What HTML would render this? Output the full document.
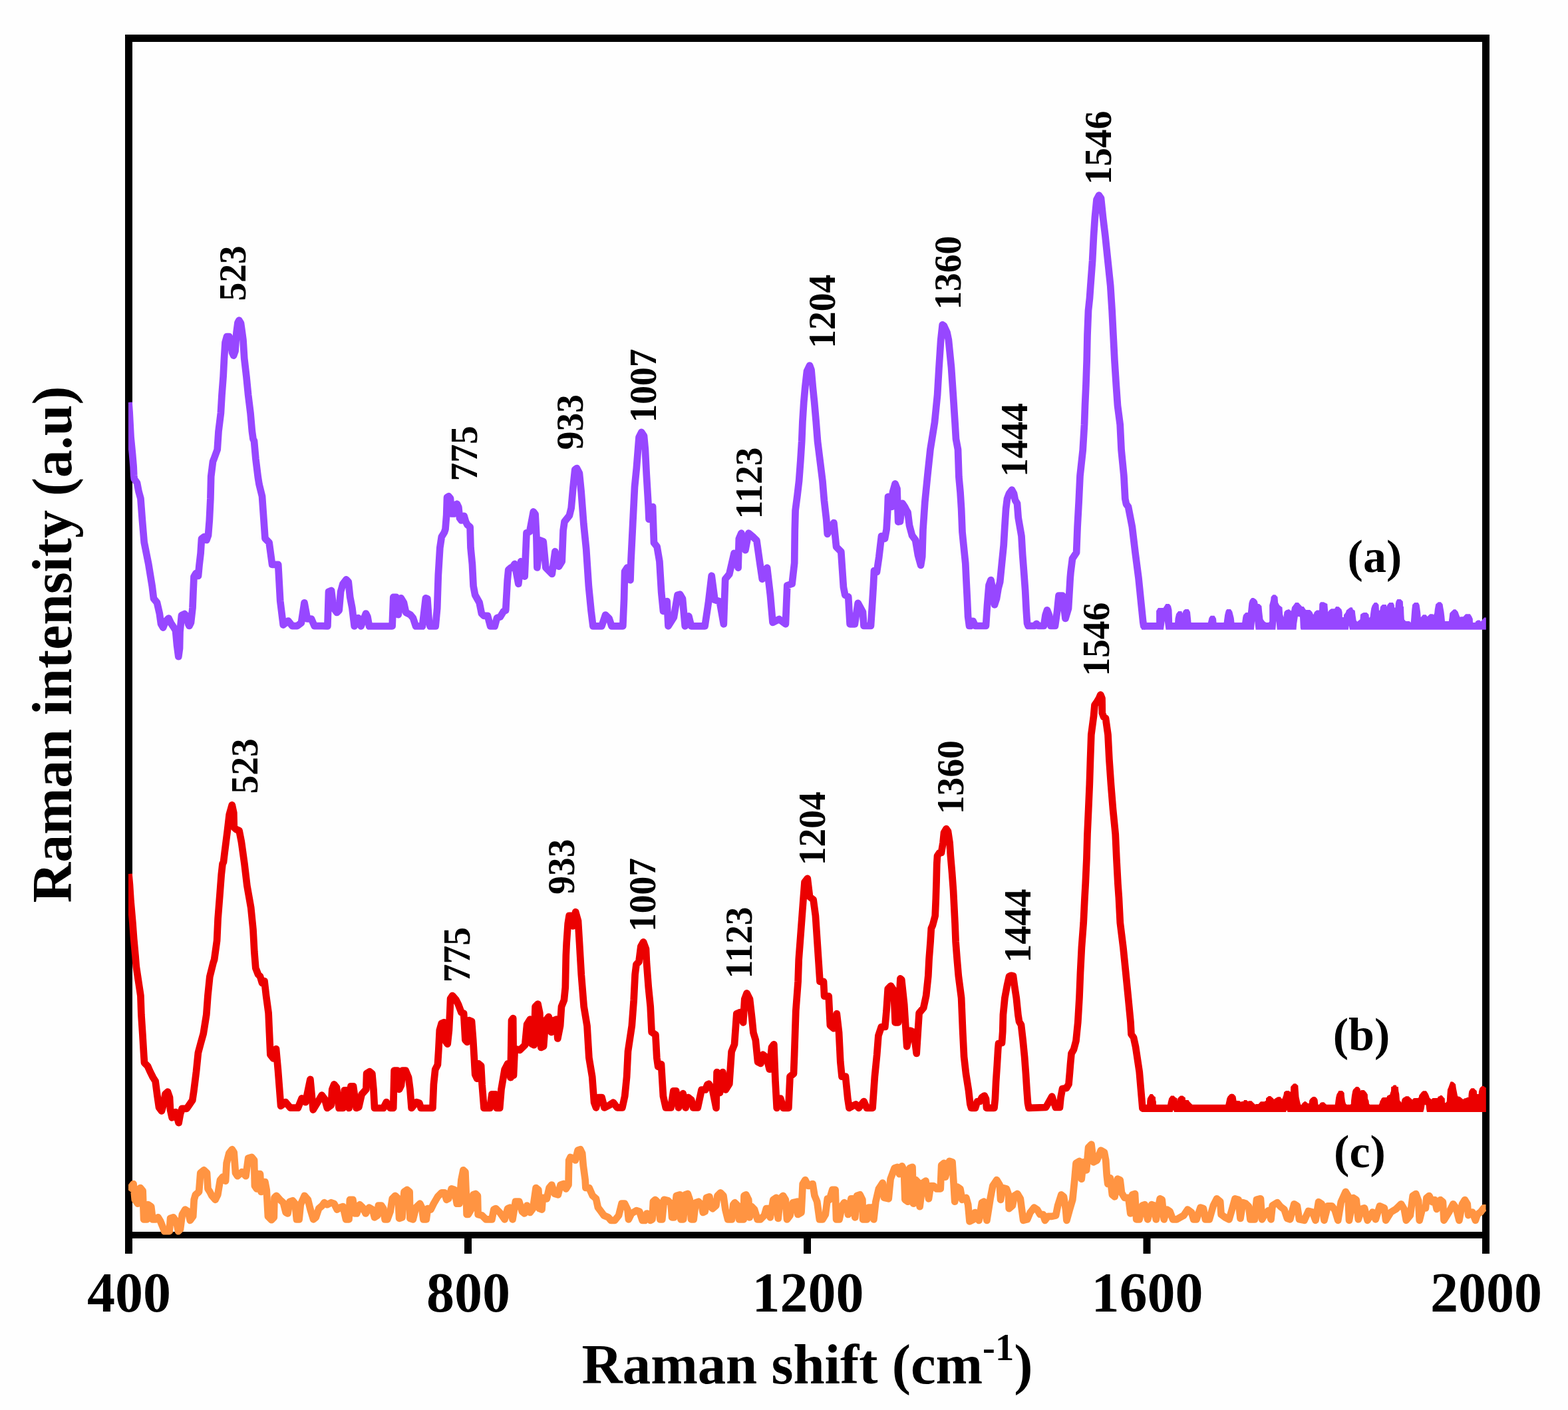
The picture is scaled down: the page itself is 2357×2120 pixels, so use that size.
<!DOCTYPE html>
<html><head><meta charset="utf-8"><title>Raman spectra</title>
<style>
html,body{margin:0;padding:0;background:#fefefe;}
svg{display:block;}
text{font-family:"Liberation Serif","Times New Roman",serif;font-weight:bold;fill:#000;}
</style></head>
<body>
<svg width="2357" height="2120" viewBox="0 0 2357 2120">
<rect x="0" y="0" width="2357" height="2120" fill="#fefefe"/>
<g fill="#000">
<rect x="188" y="52" width="2051" height="11"/>
<rect x="188" y="1852" width="2051" height="10"/>
<rect x="188" y="52" width="11" height="1833"/>
<rect x="2228" y="52" width="11" height="1833"/>
<rect x="698" y="1862" width="11" height="23"/>
<rect x="1208" y="1862" width="11" height="23"/>
<rect x="1718.5" y="1862" width="11" height="23"/>
</g>
<g font-size="84" text-anchor="middle">
<text x="194" y="1972">400</text>
<text x="704" y="1972">800</text>
<text x="1214.5" y="1972">1200</text>
<text x="1724.5" y="1972">1600</text>
<text x="2234" y="1972">2000</text>
</g>
<text transform="translate(874.6,2080) scale(1.009,1.0)" font-size="84">Raman shift (cm<tspan font-size="56" dy="-35">-1</tspan><tspan dy="35">)</tspan></text>
<text transform="translate(106.5,1357.5) rotate(-90) scale(1.0,1.0)" font-size="84">Raman intensity (a.u)</text>
<defs><clipPath id="pc"><rect x="192.9" y="57" width="2041" height="1800"/></clipPath></defs>
<g clip-path="url(#pc)">
<g fill="none" stroke-width="10.7" stroke-linejoin="round" stroke-linecap="butt">
<polyline stroke="#9747ff" points="193.5,605.0 194.6,620.0 196.6,657.6 199.0,682.0 200.7,702.0 201.2,714.5 201.8,720.0 206.0,726.0 208.5,739.0 211.4,749.4 213.9,782.4 216.7,815.4 223.3,848.3 228.7,881.3 231.0,900.0 236.0,906.0 239.8,922.5 242.0,938.0 245.2,943.6 249.0,934.0 253.5,929.6 257.0,937.0 261.0,943.0 264.0,948.0 266.0,970.0 268.3,987.2 270.0,975.0 270.5,950.0 273.0,925.0 277.4,923.0 280.0,926.0 283.0,938.0 284.5,941.0 287.0,936.0 289.5,914.0 290.5,889.5 291.5,867.0 294.5,862.0 298.0,866.0 299.5,850.0 301.6,831.9 303.0,810.0 307.0,807.0 310.5,812.0 313.0,805.0 314.8,782.4 316.4,749.4 317.2,716.5 320.0,694.0 321.6,690.0 326.7,676.0 328.5,648.6 331.9,621.1 333.5,593.6 335.6,566.2 337.0,538.7 338.5,515.0 341.0,506.0 344.5,506.0 347.0,515.0 349.0,530.0 351.1,534.6 353.5,528.0 355.5,500.0 357.5,485.0 359.4,481.6 362.0,486.0 364.0,500.0 365.5,511.2 367.2,538.7 370.4,566.2 373.1,593.6 376.5,621.1 378.9,648.6 380.5,660.0 382.0,663.0 384.4,689.8 387.8,717.3 389.5,728.0 394.0,746.2 398.5,809.6 404.6,815.7 409.1,848.9 418.2,848.9 421.2,903.3 425.7,939.6 433.3,933.5 439.3,941.1 446.9,941.1 452.9,936.5 457.5,906.3 462.0,930.5 468.0,930.5 472.6,941.1 484.6,941.1 492.4,941.5 494.0,889.6 498.1,887.9 501.4,914.3 506.4,920.9 509.7,917.6 512.1,889.6 515.4,878.0 520.4,871.4 523.7,874.7 526.2,897.8 529.4,914.3 532.7,941.5 538.5,929.1 542.6,941.5 550.0,922.5 552.5,927.5 555.0,941.5 589.6,941.5 591.3,897.8 595.4,897.8 598.7,924.2 602.8,899.4 606.9,906.0 610.2,920.9 616.8,924.2 620.9,929.1 625.0,941.5 634.9,941.5 639.9,899.4 642.4,900.3 644.8,934.0 646.5,941.5 654.7,941.5 657.2,914.3 658.8,864.8 661.3,823.6 663.8,807.1 667.9,800.5 669.5,795.6 671.2,774.2 672.0,747.8 674.5,746.2 677.0,749.4 678.6,772.5 681.9,772.5 683.6,759.3 686.9,757.7 689.3,762.6 691.0,779.1 693.5,782.4 697.6,775.8 700.0,784.1 702.5,789.0 706.6,792.3 707.5,823.6 709.9,848.3 711.6,881.3 714.1,894.5 720.6,906.0 723.9,922.5 727.2,925.8 733.0,925.8 737.1,941.5 743.7,941.5 747.0,929.1 751.9,927.5 756.9,919.2 760.2,917.6 762.7,873.1 764.3,856.6 768.5,853.3 770.0,853.5 773.7,847.9 779.3,877.8 783.1,844.2 788.7,866.6 791.5,801.2 796.2,799.3 801.8,769.4 804.6,773.2 806.4,806.8 807.4,853.5 812.0,812.4 816.7,814.3 820.4,853.5 829.8,862.9 834.4,829.2 840.1,851.6 844.7,844.2 846.6,797.5 848.5,784.4 855.9,775.1 858.7,763.8 861.5,732.1 864.3,705.9 867.1,704.1 870.9,711.5 873.7,739.6 877.4,788.1 881.2,825.5 884.9,881.5 888.6,918.9 891.4,941.3 904.5,941.3 910.1,924.5 915.7,930.1 919.4,941.3 936.3,941.3 938.1,900.2 939.1,859.1 942.8,853.5 947.5,872.2 948.4,844.2 951.2,788.1 954.0,732.1 956.8,704.1 960.5,657.4 964.3,649.9 968.0,655.5 969.9,676.0 971.8,713.4 974.6,760.1 975.5,780.7 981.1,762.0 983.0,816.2 987.6,821.8 991.4,844.2 994.2,890.9 997.0,918.9 1002.6,904.0 1004.5,941.3 1012.9,928.2 1018.5,894.6 1022.2,893.7 1026.0,900.2 1029.7,941.3 1035.3,926.4 1039.0,941.3 1059.6,941.3 1064.8,906.8 1069.7,865.7 1074.5,902.0 1081.8,904.4 1087.8,938.3 1090.2,870.6 1096.3,863.3 1103.5,831.9 1109.6,853.6 1110.8,810.1 1114.4,801.7 1120.4,827.1 1125.3,801.7 1132.5,807.7 1137.4,812.6 1142.2,846.4 1145.8,870.6 1153.1,853.6 1157.9,894.8 1161.5,935.9 1171.2,931.0 1180.9,938.3 1183.3,880.3 1190.6,877.8 1194.2,846.4 1194.8,797.0 1195.6,767.4 1198.5,745.1 1201.1,722.8 1203.3,693.2 1205.2,663.5 1206.4,633.8 1208.3,604.2 1210.3,581.9 1213.0,558.0 1217.1,549.5 1219.5,556.0 1221.8,581.9 1224.1,604.2 1226.7,633.8 1229.0,663.5 1232.7,693.2 1236.4,722.8 1238.9,752.5 1242.3,782.2 1243.8,802.9 1253.4,786.0 1257.1,822.2 1264.3,829.5 1267.9,882.7 1270.3,894.8 1275.2,897.2 1277.6,938.3 1284.9,938.3 1289.7,906.8 1296.9,920.0 1298.5,941.0 1309.0,941.0 1311.3,906.0 1313.0,878.6 1314.0,858.0 1318.0,860.0 1321.3,837.4 1323.7,816.8 1325.0,806.0 1330.0,810.0 1332.6,796.0 1334.2,768.7 1335.0,747.0 1339.0,746.0 1340.5,762.0 1342.0,740.0 1345.6,727.3 1348.5,735.0 1349.3,760.0 1350.2,784.6 1353.0,784.0 1356.5,756.9 1360.0,762.0 1363.0,767.9 1364.5,770.0 1367.0,790.0 1371.0,805.0 1376.1,812.0 1380.0,835.0 1384.1,849.8 1386.2,837.0 1387.5,796.0 1390.3,755.0 1394.4,713.7 1398.4,676.0 1405.0,634.8 1409.1,593.6 1411.5,552.4 1414.2,511.2 1416.7,488.4 1419.0,490.0 1423.6,500.0 1425.9,511.2 1430.0,552.4 1432.8,593.6 1435.5,634.8 1437.0,660.0 1438.5,668.0 1440.0,676.0 1441.4,717.3 1443.5,740.0 1445.1,765.0 1446.5,800.0 1448.0,815.0 1451.3,847.4 1452.6,874.8 1454.0,902.3 1455.1,927.0 1457.0,941.0 1459.0,941.0 1462.6,933.8 1466.0,941.0 1482.0,941.0 1484.0,910.0 1486.5,880.0 1489.5,872.0 1492.0,885.0 1495.0,909.3 1498.0,900.0 1500.5,885.0 1503.2,874.8 1505.9,847.4 1508.7,819.9 1510.3,792.4 1512.1,765.0 1514.0,750.0 1517.0,742.0 1521.0,736.6 1524.0,742.0 1526.0,752.0 1529.0,757.0 1530.7,778.7 1535.5,806.2 1537.1,833.6 1539.2,861.1 1541.2,888.6 1542.6,916.0 1544.0,937.0 1545.5,941.0 1555.0,941.0 1558.1,937.9 1561.0,941.0 1569.0,941.0 1571.5,925.0 1574.0,917.3 1577.0,925.0 1579.5,941.0 1586.0,941.0 1589.0,920.0 1591.5,895.5 1597.0,895.5 1601.5,930.0 1606.0,915.0 1607.5,890.0 1608.7,869.2 1609.5,860.0 1612.0,840.0 1618.1,830.8 1619.6,792.3 1621.7,753.8 1623.5,715.4 1627.7,676.9 1630.0,638.5 1631.0,610.0 1632.4,578.9 1633.7,541.5 1634.5,504.2 1636.0,466.8 1638.0,448.1 1639.3,429.5 1642.1,392.1 1644.0,354.7 1645.9,326.7 1648.5,300.0 1652.0,293.7 1655.0,298.0 1658.0,326.7 1661.4,354.7 1665.3,392.1 1669.2,429.5 1671.6,466.8 1673.5,504.2 1675.4,541.5 1677.8,578.9 1680.0,610.0 1683.7,638.5 1685.6,676.9 1689.4,715.4 1691.3,750.0 1693.0,758.0 1696.0,762.0 1701.9,792.3 1706.5,830.8 1711.5,869.2 1715.4,907.7 1718.2,935.0 1719.2,941.0 1722.0,941.4"/>
<polyline stroke="#eb0000" points="193.5,1314.0 194.9,1329.7 196.5,1354.5 199.4,1387.4 201.2,1412.0 203.5,1437.0 204.8,1453.4 207.1,1468.6 211.4,1497.1 212.4,1525.7 214.3,1554.3 216.0,1582.9 217.0,1598.0 222.0,1603.0 225.7,1611.4 230.0,1620.0 233.6,1625.7 236.4,1647.1 239.0,1665.0 242.9,1670.4 246.0,1660.0 248.5,1645.0 252.1,1641.7 255.0,1650.0 256.0,1668.6 258.6,1680.4 261.5,1675.0 264.0,1672.0 268.6,1688.2 271.0,1675.0 273.6,1666.8 280.7,1666.8 284.0,1662.0 289.3,1654.3 291.4,1640.0 295.0,1611.4 297.9,1582.9 301.7,1568.6 305.7,1554.3 310.3,1525.7 312.4,1497.1 315.3,1468.6 320.7,1447.0 322.1,1442.9 326.1,1414.3 327.6,1381.3 330.2,1348.3 332.7,1315.4 334.5,1299.0 336.0,1296.0 337.6,1282.4 341.8,1249.4 344.7,1224.7 348.8,1210.3 351.3,1222.0 351.8,1244.0 355.0,1247.0 359.6,1249.0 362.9,1265.9 367.5,1298.9 371.4,1331.9 377.2,1364.8 380.5,1397.8 382.3,1430.8 384.3,1455.5 388.0,1465.0 391.0,1468.0 394.0,1478.0 397.5,1475.0 400.0,1496.7 403.6,1522.9 406.4,1585.7 410.7,1591.4 415.0,1577.1 417.9,1608.6 422.1,1662.9 429.3,1657.1 436.4,1665.7 447.9,1665.7 453.6,1651.4 459.3,1657.1 466.4,1622.9 470.7,1668.6 479.3,1654.3 483.7,1646.7 488.2,1652.7 491.9,1666.0 497.8,1661.6 499.3,1637.9 502.2,1630.4 505.9,1634.9 509.6,1666.0 515.6,1666.0 517.8,1639.3 521.5,1639.3 524.5,1666.0 527.4,1633.4 531.1,1633.4 535.6,1666.0 539.3,1664.5 543.7,1645.3 550.4,1637.9 551.1,1614.1 555.6,1611.2 559.3,1614.1 561.5,1637.9 563.0,1666.0 576.3,1666.0 580.8,1657.1 586.7,1666.0 591.2,1666.0 592.6,1609.7 597.1,1609.7 600.1,1637.9 603.0,1631.9 605.2,1609.7 609.7,1609.7 614.1,1620.1 616.4,1637.9 618.6,1666.0 626.0,1657.1 630.4,1658.6 632.7,1666.0 650.4,1666.0 651.9,1630.4 654.2,1608.2 657.9,1600.8 659.3,1578.6 660.8,1548.9 663.8,1538.6 667.5,1537.1 670.5,1566.7 672.7,1569.7 674.9,1548.9 676.4,1519.3 677.1,1501.5 680.1,1497.1 685.3,1503.0 689.0,1510.4 693.4,1522.2 697.1,1523.7 699.4,1563.7 702.3,1566.7 705.3,1534.1 709.0,1535.6 711.2,1563.7 712.7,1588.9 714.2,1615.6 717.1,1621.6 719.4,1599.3 723.1,1602.3 724.6,1630.4 727.5,1666.0 736.4,1666.0 739.4,1645.3 744.6,1645.3 746.8,1666.0 751.2,1666.0 753.5,1637.9 758.6,1608.2 763.1,1599.3 767.5,1620.1 769.0,1534.1 771.2,1531.1 772.0,1617.0 773.8,1576.9 781.5,1578.8 789.2,1571.2 792.1,1540.4 796.9,1532.7 798.8,1569.2 802.7,1571.2 804.6,1513.5 808.5,1509.6 811.3,1523.1 813.3,1575.0 817.1,1573.1 820.0,1534.6 824.8,1528.8 828.7,1551.9 831.5,1534.6 836.3,1532.7 838.3,1561.5 842.1,1542.3 844.0,1513.5 847.9,1503.8 849.8,1484.6 850.8,1436.5 851.7,1417.3 853.7,1388.5 855.6,1376.9 858.5,1376.9 861.3,1392.3 865.2,1371.2 869.0,1384.6 871.0,1417.3 873.8,1465.4 877.7,1513.5 882.5,1542.3 885.4,1590.4 890.2,1619.2 893.1,1657.7 896.0,1665.4 899.8,1650.0 904.6,1650.0 908.5,1665.4 916.2,1661.5 921.9,1657.7 927.7,1665.4 935.4,1665.4 939.2,1648.1 942.1,1619.2 944.0,1580.8 946.9,1561.5 949.8,1542.3 952.7,1503.8 954.6,1465.4 956.5,1450.0 960.4,1446.2 963.3,1423.1 967.1,1416.3 971.0,1426.9 971.9,1446.2 974.8,1484.6 977.7,1513.5 979.6,1551.9 985.4,1555.8 987.3,1590.4 989.2,1603.8 994.0,1600.0 996.9,1648.1 1000.8,1665.4 1008.5,1665.4 1012.3,1640.4 1016.2,1640.4 1020.0,1665.4 1026.7,1644.2 1030.6,1665.4 1034.4,1650.0 1039.2,1653.8 1042.1,1665.4 1048.8,1665.4 1054.6,1638.5 1060.4,1638.5 1063.3,1630.8 1065.5,1629.7 1071.0,1638.5 1076.5,1665.9 1077.6,1612.1 1082.0,1642.9 1086.4,1612.1 1090.8,1638.5 1096.3,1629.7 1099.6,1581.3 1104.0,1570.3 1107.3,1524.2 1112.7,1522.0 1117.1,1537.4 1119.3,1502.2 1122.6,1493.4 1127.0,1502.2 1130.3,1530.8 1132.5,1552.7 1135.8,1563.7 1139.1,1596.7 1143.5,1598.9 1146.8,1585.7 1152.3,1590.1 1156.7,1607.7 1160.0,1574.7 1163.3,1570.3 1165.5,1625.3 1167.7,1665.9 1173.2,1651.6 1177.6,1665.9 1185.3,1665.9 1187.5,1618.7 1193.0,1614.3 1194.1,1585.7 1196.3,1519.8 1199.6,1475.8 1200.7,1442.9 1204.0,1398.9 1207.3,1354.9 1209.5,1326.4 1213.8,1320.9 1217.1,1348.4 1222.6,1352.7 1225.9,1376.9 1228.1,1409.9 1230.3,1442.9 1232.5,1475.8 1238.0,1475.8 1239.1,1497.8 1245.7,1497.8 1247.9,1541.8 1253.4,1546.2 1257.8,1524.2 1261.1,1552.7 1263.3,1596.7 1265.5,1618.7 1271.0,1618.7 1274.3,1651.6 1276.5,1665.9 1286.4,1660.4 1290.8,1665.9 1298.5,1656.0 1302.9,1665.9 1311.6,1665.9 1314.9,1618.7 1318.2,1585.7 1320.4,1557.1 1324.8,1544.0 1330.3,1544.0 1332.5,1519.8 1334.7,1486.8 1339.1,1482.4 1343.5,1489.0 1345.7,1537.4 1350.1,1537.4 1353.4,1471.4 1355.3,1473.2 1359.2,1510.1 1363.2,1573.4 1368.5,1549.6 1373.7,1552.3 1377.7,1583.9 1381.6,1523.3 1388.2,1515.4 1392.2,1496.9 1395.3,1467.4 1396.6,1441.6 1398.6,1415.8 1399.8,1396.0 1402.0,1391.0 1405.7,1377.0 1406.8,1351.2 1407.6,1325.4 1408.2,1299.6 1409.0,1287.0 1412.0,1282.4 1415.0,1282.0 1417.5,1267.3 1419.0,1252.0 1422.4,1246.2 1425.0,1250.0 1427.6,1267.3 1428.9,1286.6 1431.1,1312.5 1433.0,1338.3 1434.3,1364.1 1435.6,1390.0 1436.6,1415.8 1438.6,1441.6 1440.8,1467.4 1445.1,1500.5 1447.2,1551.1 1449.1,1589.0 1452.0,1614.3 1456.0,1639.6 1458.3,1660.0 1460.0,1665.8 1466.0,1665.8 1469.0,1656.4 1473.0,1656.0 1476.0,1650.0 1479.8,1647.5 1482.0,1652.0 1483.0,1665.8 1494.5,1665.8 1495.9,1652.2 1497.1,1626.9 1498.8,1601.6 1500.3,1576.4 1501.0,1569.0 1506.0,1568.0 1507.2,1551.1 1507.9,1525.8 1510.4,1500.5 1513.9,1481.6 1517.0,1468.0 1520.0,1466.8 1523.0,1467.5 1524.9,1481.6 1527.8,1500.5 1530.4,1525.8 1532.0,1536.0 1535.0,1541.0 1537.6,1563.7 1540.1,1589.0 1542.0,1614.3 1543.6,1639.6 1545.0,1658.5 1546.5,1665.8 1572.1,1665.0 1581.3,1648.6 1586.8,1665.0 1593.0,1665.0 1594.5,1650.0 1597.0,1637.0 1603.0,1636.0 1606.5,1630.0 1608.1,1611.5 1609.0,1600.0 1610.5,1584.0 1614.0,1578.0 1617.5,1564.8 1620.3,1536.8 1622.5,1499.5 1624.0,1462.1 1625.9,1424.7 1628.7,1387.4 1630.5,1350.0 1631.7,1328.9 1633.4,1291.5 1634.5,1254.2 1636.2,1216.8 1637.8,1179.5 1639.0,1142.1 1640.3,1104.7 1644.0,1076.7 1645.5,1060.0 1649.0,1055.0 1652.0,1050.0 1654.3,1044.6 1656.5,1050.0 1656.8,1072.0 1659.0,1078.0 1662.0,1080.0 1665.5,1104.7 1667.4,1142.1 1670.0,1179.5 1673.0,1216.8 1676.7,1254.2 1678.4,1291.5 1680.4,1328.9 1681.9,1350.0 1683.8,1387.4 1688.4,1424.7 1692.2,1462.1 1695.9,1499.5 1699.5,1536.8 1700.5,1555.0 1704.0,1560.0 1707.1,1574.2 1712.7,1611.5 1715.9,1648.9 1717.4,1666.3 1722.0,1666.3"/>
<polyline stroke="#ff9442" points="193.3,1789.7 200.6,1780.0 202.8,1803.8 207.2,1809.7 210.9,1786.0 214.6,1790.4 216.1,1833.4 220.6,1833.4 222.8,1811.2 227.2,1814.1 229.5,1833.4 233.9,1833.4 237.6,1830.4 241.3,1836.4 247.2,1851.2 254.7,1851.2 256.1,1831.9 260.6,1830.4 265.0,1836.4 268.0,1851.2 271.0,1848.2 273.9,1826.0 278.4,1818.6 282.8,1821.5 285.8,1834.9 290.2,1828.9 291.7,1803.8 293.9,1796.3 299.1,1791.9 301.3,1763.7 306.5,1759.3 311.0,1763.7 312.5,1787.4 315.4,1791.9 318.4,1797.8 323.6,1803.8 327.3,1796.3 331.0,1774.1 334.7,1769.7 339.1,1775.6 340.6,1748.9 344.3,1734.1 348.8,1728.2 351.7,1732.6 354.0,1763.7 356.9,1768.2 363.6,1762.2 369.5,1768.2 373.2,1741.5 378.4,1740.0 382.1,1744.5 382.9,1783.0 385.8,1787.4 388.1,1765.2 391.0,1765.2 392.5,1791.9 394.7,1777.1 398.4,1777.1 400.7,1788.9 402.9,1828.9 408.1,1834.1 411.8,1830.4 412.5,1800.8 415.5,1797.8 420.7,1803.8 425.8,1808.2 429.6,1823.0 432.5,1824.5 435.5,1806.7 439.9,1805.2 443.6,1809.7 445.9,1833.4 449.6,1833.4 451.8,1811.2 457.7,1797.8 462.9,1803.8 466.6,1818.6 471.1,1833.4 474.8,1830.4 479.2,1817.1 484.4,1812.6 487.4,1808.2 491.9,1811.2 497.8,1808.2 502.2,1809.7 506.7,1818.6 511.1,1815.6 515.6,1814.1 520.0,1833.4 524.5,1833.4 525.9,1803.8 530.4,1803.8 533.4,1824.5 536.3,1824.5 540.8,1811.2 545.2,1815.6 549.7,1824.5 554.8,1815.6 560.0,1818.6 563.0,1830.4 567.4,1827.5 568.9,1812.6 573.4,1812.6 576.3,1817.1 578.6,1833.4 582.3,1833.4 586.7,1821.5 589.7,1802.3 594.1,1797.8 598.6,1802.3 600.1,1831.9 604.5,1830.4 607.5,1791.9 611.9,1788.9 615.6,1791.9 616.4,1831.9 620.8,1833.4 625.2,1815.6 631.2,1809.7 634.1,1815.6 636.4,1833.4 640.8,1833.4 643.0,1817.1 647.5,1818.6 651.9,1809.7 657.9,1799.3 663.8,1793.4 668.2,1793.4 671.2,1803.8 674.2,1802.3 678.6,1787.4 683.1,1788.9 686.8,1809.7 690.5,1809.7 693.4,1774.1 696.4,1759.3 699.4,1762.2 700.8,1796.3 701.6,1826.0 703.8,1826.0 708.2,1818.6 711.2,1796.3 714.9,1794.9 717.9,1797.8 718.6,1826.0 724.6,1827.5 730.5,1833.4 739.4,1833.4 742.3,1818.6 745.3,1817.1 751.2,1823.0 758.6,1833.4 763.1,1817.1 766.8,1815.6 770.5,1833.4 774.9,1806.7 777.4,1806.7 780.4,1806.7 784.8,1821.5 788.5,1824.5 792.2,1812.6 796.7,1823.0 801.1,1817.1 805.6,1786.0 809.3,1788.9 810.8,1817.1 814.5,1818.6 815.9,1800.8 821.9,1802.3 825.6,1786.0 829.3,1781.5 833.7,1794.9 838.9,1796.3 842.6,1781.5 847.1,1780.0 850.8,1787.4 854.5,1781.5 855.2,1744.5 857.4,1740.0 861.9,1741.5 864.9,1744.5 868.6,1729.6 872.3,1728.2 875.2,1734.1 876.7,1751.9 879.7,1774.1 880.4,1786.0 885.6,1786.0 890.8,1797.8 896.0,1802.3 898.9,1815.6 903.4,1821.5 907.8,1827.5 914.5,1830.4 918.2,1834.9 924.1,1834.9 930.1,1827.5 934.5,1809.7 939.0,1809.7 943.4,1818.6 944.9,1833.4 949.3,1824.5 956.7,1820.1 961.2,1821.5 965.6,1834.9 969.3,1834.9 972.3,1824.5 976.0,1826.0 977.5,1834.9 980.5,1833.4 981.9,1806.7 984.9,1803.8 989.4,1808.2 992.3,1833.4 995.3,1833.4 998.2,1803.8 1004.2,1805.2 1008.6,1809.7 1010.1,1830.4 1013.1,1830.4 1016.8,1797.8 1022.0,1796.3 1023.4,1833.4 1027.2,1833.4 1030.1,1796.3 1033.8,1794.9 1036.8,1803.8 1039.0,1833.4 1042.7,1833.4 1045.7,1808.2 1050.1,1806.7 1054.6,1811.2 1056.8,1823.0 1059.8,1821.5 1062.0,1800.8 1066.4,1799.3 1069.4,1815.6 1071.1,1817.1 1076.3,1812.6 1078.5,1797.8 1083.0,1793.4 1087.4,1797.8 1090.4,1818.6 1094.1,1833.4 1100.0,1833.4 1102.2,1811.2 1104.5,1808.2 1108.9,1812.6 1111.1,1833.4 1117.8,1833.4 1118.5,1797.8 1121.5,1796.3 1125.2,1803.8 1126.7,1830.4 1129.7,1814.1 1134.1,1818.6 1138.6,1833.4 1143.0,1833.4 1148.9,1827.5 1151.9,1817.1 1156.3,1817.1 1157.8,1830.4 1162.3,1803.8 1166.7,1800.8 1169.7,1831.9 1172.6,1802.3 1177.1,1797.8 1180.8,1803.8 1183.0,1833.4 1187.5,1827.5 1191.9,1808.2 1198.6,1806.7 1199.3,1826.0 1204.5,1823.0 1206.7,1780.0 1210.4,1774.1 1214.9,1783.0 1221.6,1780.0 1224.5,1797.8 1228.2,1806.7 1231.9,1833.4 1236.4,1833.4 1240.8,1826.0 1243.8,1802.3 1246.8,1803.8 1251.2,1788.9 1255.6,1788.9 1257.1,1833.4 1261.6,1833.4 1266.0,1812.6 1269.0,1808.2 1273.4,1811.2 1274.9,1826.0 1279.4,1802.3 1282.3,1802.3 1285.3,1830.4 1288.2,1797.8 1292.7,1796.3 1296.4,1803.8 1297.1,1833.4 1303.1,1833.4 1306.0,1815.6 1310.5,1815.6 1313.4,1833.4 1316.4,1806.7 1320.9,1787.4 1326.8,1778.6 1329.0,1800.8 1335.7,1802.3 1338.6,1772.6 1344.6,1756.3 1349.0,1754.8 1352.0,1765.2 1355.9,1753.4 1358.9,1759.3 1360.4,1803.8 1364.8,1806.7 1367.8,1756.3 1371.5,1754.8 1373.0,1809.7 1376.7,1774.1 1379.6,1777.1 1382.6,1814.1 1387.1,1778.6 1391.5,1775.6 1396.0,1802.3 1398.9,1783.0 1403.4,1783.0 1407.8,1787.4 1413.7,1787.4 1415.2,1751.9 1418.9,1748.9 1421.1,1769.7 1427.1,1745.9 1431.5,1747.4 1433.7,1781.5 1435.2,1806.7 1438.9,1784.5 1443.4,1787.4 1446.3,1803.8 1452.3,1800.8 1455.2,1811.2 1457.5,1836.4 1463.4,1833.4 1465.6,1823.0 1469.3,1824.5 1471.5,1834.9 1476.0,1808.2 1478.9,1806.7 1483.4,1834.9 1488.6,1802.3 1492.3,1783.0 1498.2,1774.1 1502.7,1781.5 1504.1,1803.8 1507.1,1786.0 1513.0,1787.4 1516.0,1796.3 1516.7,1817.1 1521.9,1812.6 1524.9,1797.8 1529.3,1794.9 1533.8,1802.3 1536.0,1818.6 1538.2,1834.9 1544.2,1833.4 1548.6,1823.0 1554.5,1815.6 1559.0,1818.6 1563.4,1826.0 1567.9,1826.0 1570.8,1834.9 1575.3,1828.9 1581.2,1828.9 1587.1,1827.5 1590.1,1812.6 1595.3,1796.3 1599.0,1799.3 1602.0,1818.6 1603.4,1834.9 1607.9,1818.6 1612.3,1803.8 1615.3,1774.1 1617.5,1748.9 1622.7,1745.9 1625.7,1772.6 1628.6,1747.4 1633.1,1759.3 1636.1,1725.2 1640.5,1720.7 1643.7,1747.4 1648.9,1744.5 1654.8,1729.6 1660.0,1732.6 1662.2,1744.5 1663.7,1766.7 1665.2,1780.0 1668.9,1771.1 1671.9,1796.3 1675.6,1799.3 1680.0,1772.6 1683.7,1774.1 1686.0,1793.4 1690.4,1800.8 1696.3,1800.8 1699.3,1824.5 1702.2,1796.3 1706.0,1794.9 1708.2,1833.4 1712.6,1833.4 1717.1,1812.6 1720.8,1811.2 1725.2,1833.4 1731.2,1811.2 1734.9,1812.6 1737.8,1833.4 1743.7,1802.3 1746.7,1803.8 1749.7,1833.4 1754.1,1818.6 1758.6,1821.5 1763.0,1833.4 1768.9,1833.4 1774.1,1830.4 1779.3,1827.5 1785.2,1818.6 1791.2,1823.0 1794.1,1833.4 1798.6,1833.4 1804.5,1815.6 1809.0,1817.1 1811.9,1833.4 1817.9,1833.4 1823.8,1812.6 1829.0,1802.3 1834.2,1806.7 1835.6,1826.0 1841.6,1830.4 1847.5,1833.4 1851.9,1818.6 1856.4,1802.3 1861.6,1803.8 1864.5,1831.9 1868.2,1808.2 1872.7,1809.7 1877.1,1814.1 1879.4,1833.4 1886.0,1833.4 1889.0,1803.8 1894.9,1802.3 1897.1,1833.4 1900.9,1826.0 1906.8,1820.1 1910.5,1833.4 1912.7,1812.6 1920.1,1808.2 1924.6,1814.1 1930.5,1818.6 1934.9,1831.9 1939.2,1833.3 1945.3,1810.3 1949.9,1813.3 1953.0,1833.3 1960.6,1834.8 1966.8,1821.0 1972.9,1822.5 1977.5,1834.8 1982.1,1807.2 1986.7,1810.3 1990.5,1834.8 1995.9,1813.3 2002.0,1813.3 2006.6,1819.5 2011.2,1834.8 2015.8,1807.2 2022.7,1791.9 2026.5,1798.0 2028.0,1834.8 2034.1,1801.1 2038.7,1804.1 2041.8,1833.3 2046.4,1817.9 2051.0,1816.4 2055.6,1834.8 2063.2,1822.5 2067.8,1833.3 2074.0,1813.3 2080.9,1816.4 2083.2,1834.8 2090.8,1822.5 2098.5,1817.9 2106.1,1810.3 2110.7,1817.9 2113.8,1834.8 2119.9,1827.1 2123.7,1798.0 2128.3,1795.0 2132.2,1805.7 2133.7,1834.8 2138.3,1816.4 2142.9,1816.4 2144.4,1801.1 2148.3,1798.0 2152.9,1807.2 2156.7,1804.1 2159.7,1817.9 2165.1,1804.1 2168.9,1807.2 2170.5,1834.8 2178.1,1822.5 2184.3,1810.3 2188.8,1816.4 2193.4,1834.8 2198.0,1810.3 2201.9,1804.1 2205.7,1810.3 2207.2,1827.1 2213.3,1822.5 2217.9,1834.8 2221.0,1825.6 2225.6,1822.5 2230.2,1816.4 2233.5,1816.4"/>
</g>
<polygon fill="#9747ff" points="1716.0,936.1 1738.1,936.1 1738.1,918.5 1741.0,914.0 1748.7,914.0 1752.5,908.1 1757.5,908.1 1760.0,911.0 1761.5,917.0 1762.2,936.1 1766.1,936.1 1766.5,930.0 1768.1,923.0 1771.3,919.1 1776.4,919.1 1777.2,922.0 1779.0,918.0 1781.5,916.0 1786.5,916.0 1789.0,920.0 1790.0,930.0 1790.6,936.1 1815.9,936.1 1817.5,929.0 1819.9,925.8 1825.4,925.8 1828.0,930.0 1828.6,936.1 1839.6,936.1 1841.2,924.3 1842.8,918.0 1844.4,916.0 1849.9,916.0 1852.3,919.5 1854.7,929.0 1855.5,936.1 1867.1,936.1 1868.3,927.4 1869.2,924.6 1872.6,921.1 1875.8,921.1 1876.2,918.0 1877.4,906.5 1878.9,902.1 1881.6,899.0 1884.5,899.0 1888.0,901.3 1890.0,904.0 1890.8,908.1 1893.0,908.1 1896.4,911.2 1897.2,920.1 1898.5,931.0 1901.0,934.5 1903.3,936.1 1907.0,936.1 1908.2,934.5 1908.2,910.0 1910.2,902.0 1910.6,897.4 1913.5,894.2 1917.2,894.2 1920.5,897.4 1921.1,906.1 1923.2,910.0 1927.5,913.2 1928.1,923.6 1929.4,928.0 1930.5,920.0 1932.9,917.4 1937.5,916.0 1940.0,918.0 1941.0,918.6 1942.0,913.0 1947.3,906.1 1951.7,906.1 1957.2,912.0 1959.6,912.0 1963.0,916.9 1969.1,916.9 1972.3,920.1 1974.2,924.3 1976.0,920.0 1979.2,917.4 1983.0,917.4 1983.3,908.1 1985.2,905.3 1989.6,905.3 1995.3,908.1 1996.3,920.0 1998.0,917.5 2001.1,915.2 2006.2,915.2 2008.2,912.0 2012.4,912.3 2016.5,916.2 2017.6,920.3 2017.8,928.0 2019.8,928.0 2020.0,924.5 2022.8,921.1 2024.0,917.4 2029.6,913.2 2032.6,913.2 2034.0,916.5 2036.7,918.0 2037.5,925.0 2038.7,933.0 2040.3,934.8 2041.0,934.0 2044.5,931.3 2045.0,924.0 2047.6,922.0 2049.8,921.1 2054.5,921.1 2057.5,924.0 2058.0,929.0 2059.5,927.5 2060.3,921.0 2061.3,914.4 2062.8,910.3 2066.0,906.1 2069.7,906.1 2072.5,909.3 2073.0,918.0 2074.2,917.4 2075.0,912.3 2077.0,910.0 2078.2,909.0 2083.6,909.0 2084.5,912.0 2085.4,909.6 2088.4,906.1 2094.0,906.1 2095.8,909.6 2096.0,913.5 2097.4,913.5 2097.8,908.0 2098.5,904.3 2100.4,901.0 2105.5,901.0 2108.8,904.3 2109.2,912.0 2110.0,912.0 2110.4,923.5 2110.9,931.6 2113.2,934.0 2118.6,934.0 2120.5,936.1 2121.0,933.0 2122.3,916.2 2123.1,909.3 2126.2,906.1 2131.7,906.1 2133.6,909.3 2134.3,914.3 2135.2,921.0 2135.8,928.3 2139.0,924.3 2143.5,924.3 2145.5,927.0 2149.5,923.3 2153.7,923.3 2155.0,924.5 2156.2,922.0 2156.8,916.0 2158.2,908.5 2162.0,905.2 2165.8,905.2 2168.6,908.5 2169.3,913.3 2170.4,919.2 2171.3,926.5 2172.0,934.0 2177.8,934.0 2178.5,929.0 2179.3,922.0 2181.3,919.7 2185.1,916.3 2188.2,916.3 2191.5,919.7 2193.0,924.0 2194.5,927.7 2196.5,927.2 2199.5,927.2 2203.2,923.3 2209.7,923.3 2212.0,926.5 2213.8,930.5 2214.0,936.1 2217.6,936.1 2218.3,934.3 2221.2,932.5 2224.3,932.5 2226.0,934.5 2228.2,932.0 2231.0,928.6 2233.8,928.4 2233.8,946.8 2028.8,946.8 2027.8,940.8 2026.8,946.8 1955.5,946.8 1954.8,944.0 1954.0,927.5 1950.9,927.0 1949.2,938.0 1948.5,946.8 1919.7,946.8 1918.5,933.8 1917.3,946.8 1887.6,946.8 1886.1,933.8 1884.9,946.8 1752.5,946.8 1750.7,933.8 1749.0,946.8 1716.0,946.8"/>
<polygon fill="#eb0000" points="1716.0,1660.8 1724.1,1660.8 1724.3,1655.0 1725.0,1651.2 1726.8,1648.3 1728.9,1645.0 1732.4,1645.0 1735.3,1648.5 1736.9,1649.5 1737.1,1654.0 1737.8,1656.0 1738.0,1660.8 1755.1,1660.8 1755.8,1657.0 1757.2,1651.5 1760.2,1647.5 1764.6,1647.5 1766.2,1649.5 1769.5,1651.5 1770.0,1655.5 1770.2,1652.0 1772.0,1649.5 1774.5,1647.5 1778.0,1647.5 1781.8,1650.5 1782.0,1654.0 1786.5,1654.0 1788.0,1656.5 1792.2,1660.8 1842.3,1660.8 1843.5,1655.5 1844.3,1651.5 1845.6,1648.7 1848.8,1645.3 1851.7,1644.5 1854.6,1645.3 1857.5,1648.5 1858.6,1655.0 1863.6,1655.2 1865.3,1657.1 1866.3,1656.0 1869.1,1655.9 1870.0,1654.0 1871.5,1653.9 1873.8,1653.9 1875.8,1656.1 1877.5,1655.2 1881.3,1655.2 1884.0,1658.0 1886.9,1660.8 1888.0,1660.0 1891.6,1660.0 1895.0,1656.3 1900.7,1656.3 1903.0,1654.8 1903.1,1651.2 1907.0,1648.0 1909.9,1648.0 1913.7,1651.2 1915.0,1652.9 1917.2,1651.3 1920.8,1649.2 1924.8,1649.2 1926.0,1651.5 1927.5,1652.0 1929.4,1646.5 1930.2,1642.0 1933.0,1640.0 1937.7,1640.0 1939.2,1641.8 1940.0,1641.0 1940.2,1634.0 1942.1,1631.7 1944.7,1629.3 1948.0,1629.3 1951.3,1632.2 1951.8,1640.0 1952.5,1649.2 1954.0,1656.3 1955.1,1660.8 1956.8,1660.8 1957.7,1658.7 1961.0,1656.1 1963.0,1656.3 1966.0,1659.0 1967.7,1659.0 1968.2,1654.6 1970.0,1651.7 1973.5,1649.0 1976.8,1649.0 1979.2,1651.0 1980.6,1653.5 1981.4,1660.8 1983.0,1660.8 1985.0,1658.0 1987.0,1657.3 1990.2,1657.3 1993.0,1660.0 1994.0,1660.8 2006.8,1660.8 2007.4,1656.0 2008.2,1650.0 2009.4,1645.2 2011.5,1642.0 2012.4,1640.1 2017.7,1640.1 2020.6,1643.1 2021.0,1649.0 2022.0,1656.0 2023.0,1659.5 2024.5,1660.8 2029.6,1660.8 2030.8,1660.0 2031.0,1655.0 2032.0,1647.0 2033.2,1640.4 2034.3,1638.0 2036.6,1635.7 2038.3,1634.0 2041.7,1634.0 2044.6,1637.0 2045.0,1640.0 2046.3,1639.0 2050.5,1639.0 2053.5,1642.0 2055.0,1644.6 2055.8,1645.5 2056.0,1652.0 2057.5,1655.0 2058.0,1659.8 2059.3,1660.8 2072.8,1660.8 2073.8,1658.5 2074.5,1655.5 2075.9,1653.6 2077.0,1651.0 2079.0,1650.0 2084.5,1650.0 2085.0,1648.0 2086.9,1646.8 2089.3,1645.8 2090.0,1643.0 2091.0,1640.6 2091.2,1634.3 2093.3,1633.5 2095.0,1631.5 2098.5,1631.5 2099.7,1634.0 2101.8,1634.0 2102.3,1640.6 2103.3,1645.0 2104.0,1654.5 2105.6,1656.3 2106.4,1658.0 2107.5,1653.0 2108.8,1651.0 2111.3,1649.6 2113.3,1648.3 2117.3,1648.3 2119.5,1650.3 2121.5,1652.0 2123.0,1653.5 2124.5,1651.5 2126.2,1650.9 2131.9,1650.9 2132.8,1649.5 2133.4,1646.4 2134.4,1645.6 2137.0,1642.0 2139.2,1640.2 2143.8,1640.2 2146.4,1644.0 2147.7,1647.0 2149.0,1650.8 2151.8,1652.9 2153.6,1651.0 2155.1,1650.9 2161.0,1650.9 2161.5,1649.0 2163.7,1648.3 2165.2,1647.0 2167.4,1647.0 2170.2,1650.2 2171.7,1651.4 2172.0,1658.2 2173.8,1657.4 2174.8,1656.0 2175.2,1648.0 2176.0,1638.0 2177.2,1635.5 2178.6,1631.5 2180.5,1626.5 2182.7,1626.3 2185.0,1627.2 2188.0,1630.2 2188.8,1636.3 2190.0,1642.2 2191.0,1647.5 2191.7,1648.6 2194.5,1649.1 2197.0,1651.0 2199.3,1652.9 2201.0,1651.5 2204.0,1650.9 2205.3,1650.0 2207.3,1649.9 2207.7,1644.2 2208.4,1640.5 2210.4,1637.6 2211.8,1636.2 2215.7,1636.2 2217.7,1638.4 2219.7,1640.1 2220.2,1645.0 2222.7,1645.0 2223.0,1641.0 2224.3,1636.2 2226.3,1634.1 2228.0,1633.0 2230.4,1633.0 2232.5,1635.0 2233.8,1635.0 2233.8,1671.9 2145.0,1671.9 2144.3,1669.0 2143.5,1661.5 2141.7,1661.0 2140.5,1668.0 2139.3,1671.9 1935.6,1671.9 1934.3,1669.0 1933.0,1671.9 1765.1,1671.9 1763.8,1668.8 1762.5,1671.9 1716.0,1671.9"/>
</g>
<g font-size="55.5">
<text transform="translate(369.1,452.6) rotate(-90) scale(1,1.02)">523</text>
<text transform="translate(717.1,723.6) rotate(-90) scale(1,1.02)">775</text>
<text transform="translate(876.2,676.2) rotate(-90) scale(1,1.02)">933</text>
<text transform="translate(986.0,635.5) rotate(-90) scale(1,1.02)">1007</text>
<text transform="translate(1145.0,780.4) rotate(-90) scale(1,1.02)">1123</text>
<text transform="translate(1254.7,523.8) rotate(-90) scale(1,1.02)">1204</text>
<text transform="translate(1443.7,465.8) rotate(-90) scale(1,1.02)">1360</text>
<text transform="translate(1543.5,716.9) rotate(-90) scale(1,1.02)">1444</text>
<text transform="translate(1669.6,277.8) rotate(-90) scale(1,1.02)">1546</text>
<text transform="translate(387.1,1193.4) rotate(-90) scale(1,1.02)">523</text>
<text transform="translate(706.3,1477.2) rotate(-90) scale(1,1.02)">775</text>
<text transform="translate(862.6,1344.8) rotate(-90) scale(1,1.02)">933</text>
<text transform="translate(985.2,1401.0) rotate(-90) scale(1,1.02)">1007</text>
<text transform="translate(1129.5,1471.5) rotate(-90) scale(1,1.02)">1123</text>
<text transform="translate(1239.8,1301.3) rotate(-90) scale(1,1.02)">1204</text>
<text transform="translate(1448.2,1224.2) rotate(-90) scale(1,1.02)">1360</text>
<text transform="translate(1548.7,1447.6) rotate(-90) scale(1,1.02)">1444</text>
<text transform="translate(1667.0,1016.8) rotate(-90) scale(1,1.02)">1546</text>
</g>
<g font-size="70">
<text transform="translate(2025.6,860.3) scale(1)">(a)</text>
<text transform="translate(2003.8,1579) scale(1)">(b)</text>
<text transform="translate(2005.1,1754.5) scale(1)">(c)</text>
</g>
</svg>
</body></html>
